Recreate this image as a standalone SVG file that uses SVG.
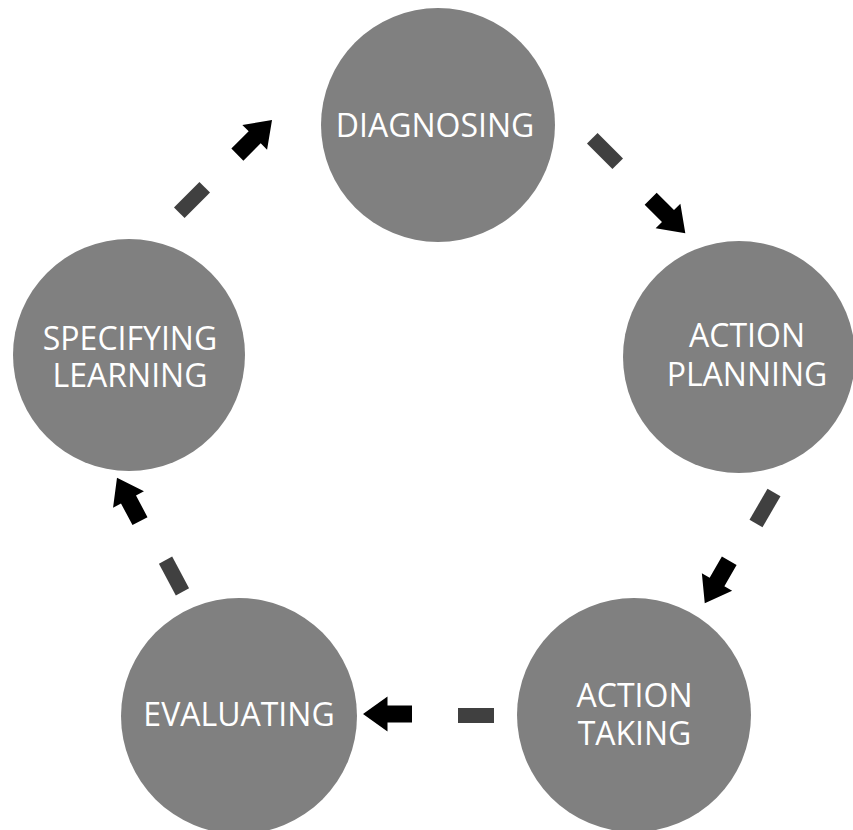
<svg xmlns="http://www.w3.org/2000/svg" width="853" height="830" viewBox="0 0 853 830">
<style>
.node circle{fill:#808080}
.node text{fill:#fff;font-family:"Open Sans","DejaVu Sans",sans-serif;font-size:32px;text-anchor:middle}
.dash{fill:#404040}
.arr{fill:#000}
</style>
<defs>
<rect id="dash" class="dash" x="-18" y="-7.5" width="36" height="15"/>
<path id="arr" class="arr" d="M-24.5,-8.5 L0,-8.5 L0,-17.5 L24.5,0 L0,17.5 L0,8.5 L-24.5,8.5 Z"/>
</defs>
<rect width="853" height="830" fill="#fff"/>
<g id="connectors">
<use href="#dash" transform="translate(605,151) rotate(45)"/>
<use href="#arr" transform="translate(668,216) rotate(45)"/>
<use href="#dash" transform="translate(765,508) rotate(120)"/>
<use href="#arr" transform="translate(717,582) rotate(120)"/>
<use href="#dash" transform="translate(476,715.5)"/>
<use href="#arr" transform="translate(387.5,714) rotate(180)"/>
<use href="#dash" transform="translate(174,576) rotate(242)"/>
<use href="#arr" transform="translate(128.5,499.5) rotate(242)"/>
<use href="#dash" transform="translate(192,200) rotate(-45)"/>
<use href="#arr" transform="translate(254.7,137.3) rotate(-45)"/>
</g>
<g id="diagnosing" class="node"><circle cx="438" cy="125" r="117"/><text x="435" y="137">DIAGNOSING</text></g>
<g id="action-planning" class="node"><circle cx="739" cy="357" r="116"/><text x="747" y="347">ACTION</text><text x="747" y="386">PLANNING</text></g>
<g id="action-taking" class="node"><circle cx="634" cy="715" r="117"/><text x="634.5" y="707">ACTION</text><text x="634.5" y="745">TAKING</text></g>
<g id="evaluating" class="node"><circle cx="239" cy="716" r="118"/><text x="239" y="726">EVALUATING</text></g>
<g id="specifying-learning" class="node"><circle cx="129" cy="355" r="116"/><text x="130" y="350">SPECIFYING</text><text x="130" y="387">LEARNING</text></g>
</svg>
